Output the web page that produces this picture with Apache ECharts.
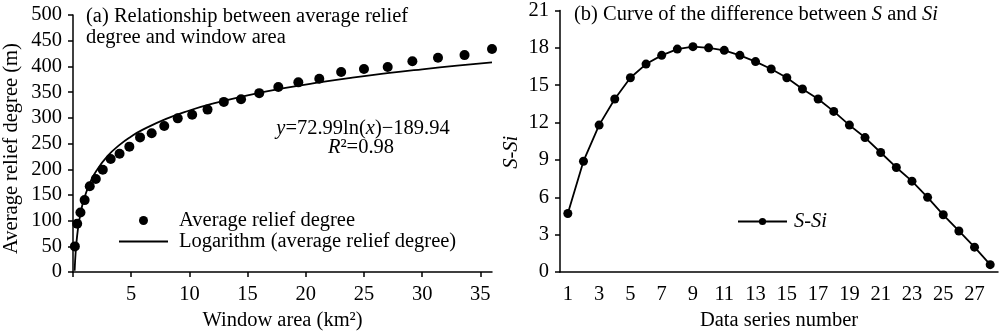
<!DOCTYPE html>
<html><head><meta charset="utf-8">
<script src="https://cdn.jsdelivr.net/npm/echarts@6/dist/echarts.min.js"></script>
<style>html,body{margin:0;padding:0;background:#fff}#c{width:1000px;height:336px}</style>
</head><body><div id="c"></div>
<script>
// Panel (a): window area (km²) vs average relief degree (m)
const areaX = [0.16,0.36,0.64,1.0,1.44,1.96,2.56,3.24,4.0,4.84,5.76,6.76,7.84,9.0,10.24,11.56,12.96,14.44,16.0,17.64,19.36,21.16,23.04,25.0,27.04,29.16,31.36,33.64,36.0];
const reliefY = [50,94,116,140,167,181,199,220,230,244,262,270,284,299,306,316,331,336,348,360,369,376,389,395,399,410,417,422,434];
// Logarithmic trend line as drawn in the picture
const trendX = [0.14,0.16,0.2,0.25,0.3,0.4,0.5,0.75,1,1.5,2,3,4,5,6,8,10,12,15,18,21,24,27,30,33,36];
const trendY = [2.7,12.5,28.7,45.0,58.3,79.3,95.6,125.2,146.2,175.8,196.8,226.4,247.4,263.7,277.0,298.0,314.3,327.6,343.9,357.2,368.4,378.2,386.8,394.4,401.4,407.8];
// Panel (a) x-axis ticks and labels
const areaTicks = [0,5,10,15,20,25,30,35];
const areaLabels = [5,10,15,20,25,30,35];
// Panel (b): S-Si by data series number
const seriesNo = ['1','2','3','4','5','6','7','8','9','10','11','12','13','14','15','16','17','18','19','20','21','22','23','24','25','26','27','28'];
const sDiff = [4.7,8.9,11.8,13.9,15.6,16.7,17.4,17.9,18.1,18.0,17.8,17.4,16.9,16.3,15.6,14.7,13.9,12.9,11.8,10.8,9.6,8.4,7.3,6.0,4.6,3.3,2.0,0.6];

const F = 'Liberation Serif';
const FS = 20.5;
const axisLine = {lineStyle:{color:'#000',width:1.5}};
const axisTick = {length:5,lineStyle:{color:'#000',width:1.5}};
const xLabel = {color:'#000',fontFamily:F,fontSize:FS,margin:12};
const yLabel = {color:'#000',fontFamily:F,fontSize:FS,margin:11};
const nameStyle = {color:'#000',fontFamily:F,fontSize:FS};
const rich = {i:{fontFamily:F,fontSize:FS,fontStyle:'italic',color:'#000'}};

const chart = echarts.init(document.getElementById('c'));
chart.setOption({
  animation:false,
  backgroundColor:'#fff',
  textStyle:{fontFamily:F,color:'#000'},
  title:[
    {text:'(a) Relationship between average relief\ndegree and window area',left:86,top:6.5,padding:0,
     textStyle:{fontFamily:F,fontSize:FS,fontWeight:'normal',color:'#000',lineHeight:21}},
    {text:'(b) Curve of the difference between {i|S} and {i|Si}',left:574,top:5,padding:0,
     textStyle:{fontFamily:F,fontSize:FS,fontWeight:'normal',color:'#000',lineHeight:20,rich}}
  ],
  grid:[
    {left:72,top:15,width:420,height:261},
    {left:560,top:8.4,width:438,height:268.3}
  ],
  xAxis:[
    {gridIndex:0,type:'value',min:0,max:36,splitLine:{show:false},
     axisLine,axisTick:{...axisTick,customValues:areaTicks},
     axisLabel:{...xLabel,customValues:areaLabels},
     name:'Window area (km²)',nameLocation:'middle',nameGap:36,nameTextStyle:nameStyle},
    {gridIndex:1,type:'category',data:seriesNo,boundaryGap:true,
     axisLine,axisTick:{...axisTick,interval:0},axisLabel:{...xLabel,interval:1},
     name:'Data series number',nameLocation:'middle',nameGap:36,nameTextStyle:nameStyle}
  ],
  yAxis:[
    {gridIndex:0,type:'value',min:0,max:500,interval:50,splitLine:{show:false},
     axisLine:{show:true,...axisLine},axisTick:{show:true,...axisTick},axisLabel:yLabel,
     name:'Average relief degree (m)',nameLocation:'middle',nameGap:51,
     nameTextStyle:{...nameStyle,padding:[0,10,0,0]}},
    {gridIndex:1,type:'value',min:0,max:21,interval:3,splitLine:{show:false},
     axisLine:{show:true,...axisLine},axisTick:{show:true,...axisTick},axisLabel:yLabel,
     name:'S-Si',nameLocation:'middle',nameGap:38,
     nameTextStyle:{...nameStyle,fontStyle:'italic',padding:[0,22,0,0]}}
  ],
  legend:[
    {data:[{name:'Average relief degree'},
           {name:'Logarithm (average relief degree)',itemStyle:{opacity:0}}],orient:'vertical',
     left:118,top:210,padding:0,itemWidth:49,itemHeight:9,itemGap:0,
     textStyle:{fontFamily:F,fontSize:FS,color:'#000',lineHeight:21,padding:[0,0,0,6]}},
    {data:['S-Si'],left:737,top:211,padding:0,itemWidth:49,itemHeight:9,
     textStyle:{fontFamily:F,fontSize:FS,color:'#000',fontStyle:'italic',lineHeight:21,padding:[0,0,0,2]}}
  ],
  graphic:[
    {type:'text',x:363,y:128.5,style:{text:'{i|y}=72.99ln({i|x})−189.94',align:'center',verticalAlign:'middle',
      fontFamily:F,fontSize:FS,fill:'#000',rich}},
    {type:'text',x:361,y:148,style:{text:'{i|R}²=0.98',align:'center',verticalAlign:'middle',
      fontFamily:F,fontSize:FS,fill:'#000',rich}}
  ],
  series:[
    {name:'Logarithm (average relief degree)',type:'line',xAxisIndex:0,yAxisIndex:0,
     data:trendX.map((x,i)=>[x,trendY[i]]),symbol:'none',smooth:true,
     lineStyle:{color:'#000',width:1.8},itemStyle:{color:'#000'},z:3},
    {name:'Average relief degree',type:'scatter',xAxisIndex:0,yAxisIndex:0,
     data:areaX.map((x,i)=>[x,reliefY[i]]),symbol:'circle',symbolSize:10,clip:false,
     itemStyle:{color:'#000',opacity:1},z:4},
    {name:'S-Si',type:'line',xAxisIndex:1,yAxisIndex:1,data:sDiff,symbol:'circle',symbolSize:9,
     showAllSymbol:true,lineStyle:{color:'#000',width:1.8},itemStyle:{color:'#000',opacity:1}}
  ]
});
</script></body></html>
